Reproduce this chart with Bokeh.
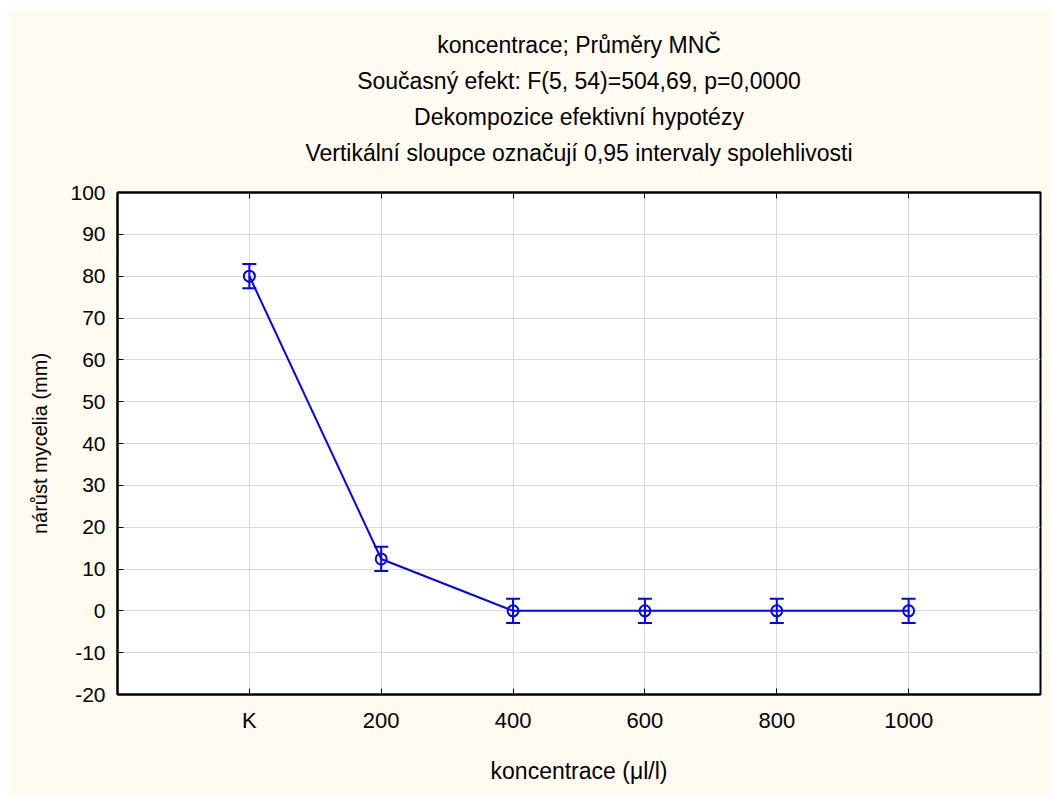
from bokeh.plotting import figure
from bokeh.models import (Title, LinearAxis, FixedTicker, Whisker, ColumnDataSource,
                          Range1d, TeeHead)
from bokeh.embed import file_html
from bokeh.resources import INLINE

# ---- data ----
categories = ["K", "200", "400", "600", "800", "1000"]
means = [80.0, 12.4, 0.0, 0.0, 0.0, 0.0]
ci_half = [2.9, 2.9, 2.9, 2.9, 2.9, 2.9]
y_ticks = [-20, -10, 0, 10, 20, 30, 40, 50, 60, 70, 80, 90, 100]
title_lines = [
    "koncentrace; Průměry MNČ",
    "Současný efekt: F(5, 54)=504,69, p=0,0000",
    "Dekompozice efektivní hypotézy",
    "Vertikální sloupce označují 0,95 intervaly spolehlivosti",
]
x_label = "koncentrace (μl/l)"
y_label = "nárůst mycelia (mm)"

positions = list(range(1, len(categories) + 1))
lower = [m - c for m, c in zip(means, ci_half)]
upper = [m + c for m, c in zip(means, ci_half)]
src = ColumnDataSource(dict(x=positions, y=means, lower=lower, upper=upper))

FONT = "Liberation Sans"
BLUE = "#0000FF"
BG = "#FFFBF0"
TITLE_SIZE = "23px"

p = figure(width=1043, height=786, x_range=Range1d(0, len(categories) + 1),
           y_range=Range1d(-20, 100), output_backend="svg", toolbar_location=None,
           margin=(10, 0, 0, 8), min_border_left=109, min_border_right=11,
           min_border_bottom=102, min_border_top=182,
           background_fill_color="white", border_fill_color=BG,
           title=title_lines[0])

p.outline_line_color = "black"
p.outline_line_width = 2

bottom = p.below[0]
left = p.left[0]

# axes
for ax in [bottom, left]:
    ax.major_tick_in = 6
    ax.major_tick_out = 0
    ax.minor_tick_line_color = None
    ax.axis_line_width = 2
    ax.axis_line_color = "black"
    ax.major_tick_line_color = "black"
    ax.major_tick_line_width = 1
    ax.major_label_text_font = FONT
    ax.major_label_text_color = "black"
    ax.axis_label_text_font = FONT
    ax.axis_label_text_font_style = "normal"
    ax.axis_label_text_color = "black"

bottom.ticker = FixedTicker(ticks=positions)
bottom.major_label_overrides = {pos: c for pos, c in zip(positions, categories)}
bottom.major_label_text_font_size = "22px"
bottom.axis_label = x_label
bottom.axis_label_text_font_size = "23px"
bottom.major_label_standoff = 13
bottom.axis_label_standoff = 22

left.ticker = FixedTicker(ticks=y_ticks)
left.major_label_overrides = {t: str(t) for t in y_ticks}
left.major_label_text_font_size = "21px"
left.axis_label = y_label
left.axis_label_text_font_size = "20px"
left.major_label_standoff = 12
left.axis_label_standoff = 16

# top axis with inward ticks (closest to the frame)
top = LinearAxis(ticker=FixedTicker(ticks=positions), major_tick_in=6, major_tick_out=0,
                 minor_tick_line_color=None, major_label_text_font_size="0px",
                 major_label_overrides={pos: "" for pos in positions},
                 major_label_standoff=0, axis_line_color="black", axis_line_width=2,
                 major_tick_line_color="black")
p.add_layout(top, "above")

# spacer between the frame and the titles
p.add_layout(Title(text=" ", text_font_size="1px", standoff=20), "above")

# titles: first added is closest to the plot; p.title is outermost
for t in reversed(title_lines[1:]):
    p.add_layout(Title(text=t, text_font=FONT, text_font_size=TITLE_SIZE,
                       text_font_style="normal", text_color="black",
                       align="center", standoff=8), "above")
p.title.text_font = FONT
p.title.text_font_size = TITLE_SIZE
p.title.text_font_style = "normal"
p.title.text_color = "black"
p.title.align = "center"
p.title.standoff = 8

p.xgrid.grid_line_color = "#dadada"
p.ygrid.grid_line_color = "#dadada"
p.xgrid.grid_line_width = 1
p.ygrid.grid_line_width = 1

# data marks
p.line("x", "y", source=src, line_color=BLUE, line_width=2)
wh = Whisker(source=src, base="x", upper="upper", lower="lower", line_color=BLUE,
             line_width=2, level="glyph",
             upper_head=TeeHead(size=14, line_color=BLUE, line_width=2),
             lower_head=TeeHead(size=14, line_color=BLUE, line_width=2))
p.add_layout(wh)
p.scatter("x", "y", source=src, size=11, fill_color=None, line_color=BLUE, line_width=2)

open("out.html", "w").write(file_html(p, INLINE))
